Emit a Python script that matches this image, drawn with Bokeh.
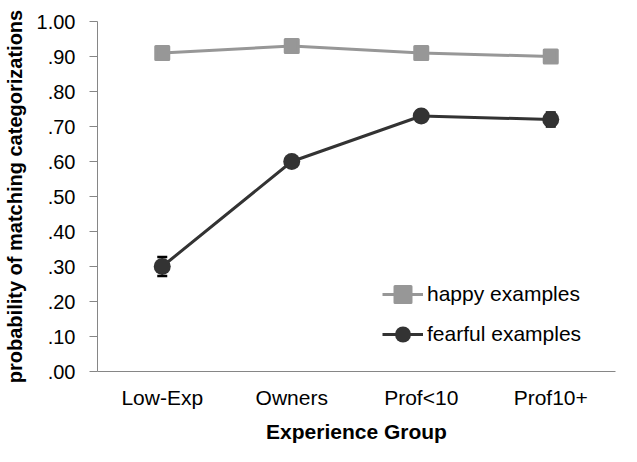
from bokeh.plotting import figure
from bokeh.models import (ColumnDataSource, FactorRange, Range1d, FixedTicker,
                          CustomJSTickFormatter, Whisker, TeeHead, Legend, LegendItem)
from bokeh.embed import file_html
from bokeh.resources import INLINE

groups = ["Low-Exp", "Owners", "Prof<10", "Prof10+"]
happy = [0.91, 0.93, 0.91, 0.90]
happy_err = [0.008, 0.008, 0.008, 0.008]
fearful = [0.30, 0.60, 0.73, 0.72]
fearful_err = [0.027, 0.010, 0.015, 0.020]
y_ticks = [0.0, 0.1, 0.2, 0.3, 0.4, 0.5, 0.6, 0.7, 0.8, 0.9, 1.0]
y_tick_labels = [".00", ".10", ".20", ".30", ".40", ".50", ".60", ".70", ".80", ".90", "1.00"]
y_title = "probability of matching categorizations"
x_title = "Experience Group"

FONT = "Liberation Sans"
HAPPY_C = "#979797"
FEAR_C = "#333333"

p = figure(width=637, height=462, x_range=FactorRange(*groups, range_padding=0),
           y_range=Range1d(0, 1.0), output_backend="svg", toolbar_location=None,
           min_border_left=97, min_border_right=22, min_border_top=21, min_border_bottom=91)
p.outline_line_color = None
p.xgrid.grid_line_color = None
p.ygrid.grid_line_color = None

hs = ColumnDataSource(dict(x=groups, y=happy,
                           lo=[v - e for v, e in zip(happy, happy_err)],
                           hi=[v + e for v, e in zip(happy, happy_err)]))
fs = ColumnDataSource(dict(x=groups, y=fearful,
                           lo=[v - e for v, e in zip(fearful, fearful_err)],
                           hi=[v + e for v, e in zip(fearful, fearful_err)]))

hl = p.line("x", "y", source=hs, line_color=HAPPY_C, line_width=3)
hm = p.scatter("x", "y", source=hs, marker="square", size=13, fill_color=HAPPY_C,
               line_color=HAPPY_C, line_width=3, line_join="round")
fl = p.line("x", "y", source=fs, line_color=FEAR_C, line_width=3)
fm = p.scatter("x", "y", source=fs, marker="circle", size=17, fill_color=FEAR_C,
               line_color=FEAR_C, line_width=0)

for src in (hs, fs):
    w = Whisker(source=src, base="x", lower="lo", upper="hi", line_color="black", line_width=1.5,
                upper_head=TeeHead(size=10, line_color="black", line_width=2.5),
                lower_head=TeeHead(size=10, line_color="black", line_width=2.5))
    p.add_layout(w)

# axes
p.yaxis.ticker = FixedTicker(ticks=y_ticks)
p.yaxis.formatter = CustomJSTickFormatter(args=dict(tv=y_ticks, tl=y_tick_labels), code="""
    for (let i = 0; i < tv.length; i++) { if (Math.abs(tv[i] - tick) < 1e-9) return tl[i]; }
    return '';
""")
p.yaxis.minor_tick_line_color = None
p.yaxis.major_tick_in = 0
p.yaxis.major_tick_out = 8
p.yaxis.major_tick_line_color = "#868686"
p.yaxis.axis_line_color = "#868686"
p.yaxis.major_label_text_font = FONT
p.yaxis.major_label_text_font_size = "20px"
p.yaxis.major_label_text_color = "black"
p.yaxis.major_label_standoff = 14
p.yaxis.axis_label = y_title
p.yaxis.axis_label_text_font = FONT
p.yaxis.axis_label_text_font_size = "20px"
p.yaxis.axis_label_text_font_style = "bold"
p.yaxis.axis_label_text_color = "black"
p.yaxis.axis_label_standoff = 8

p.xaxis.axis_line_color = "#868686"
p.xaxis.major_tick_line_color = None
p.xaxis.major_tick_out = 0
p.xaxis.major_tick_in = 0
p.xaxis.major_label_text_font = FONT
p.xaxis.major_label_text_font_size = "21px"
p.xaxis.major_label_text_color = "black"
p.xaxis.major_label_standoff = 14
p.xaxis.axis_label = x_title
p.xaxis.axis_label_text_font = FONT
p.xaxis.axis_label_text_font_size = "21px"
p.xaxis.axis_label_text_font_style = "bold"
p.xaxis.axis_label_text_color = "black"
p.xaxis.axis_label_standoff = 8

legend = Legend(items=[LegendItem(label="happy examples", renderers=[hl, hm]),
                       LegendItem(label="fearful examples", renderers=[fl, fm])],
                location=(285, 17), orientation="vertical")
legend.border_line_color = None
legend.background_fill_alpha = 0
legend.padding = 0
legend.margin = 0
legend.spacing = -5
legend.glyph_width = 41
legend.glyph_height = 40
legend.label_height = 21
legend.label_standoff = 4
legend.label_text_font = FONT
legend.label_text_font_size = "21px"
legend.label_text_color = "black"
p.add_layout(legend)

open("out.html", "w").write(file_html(p, INLINE))
